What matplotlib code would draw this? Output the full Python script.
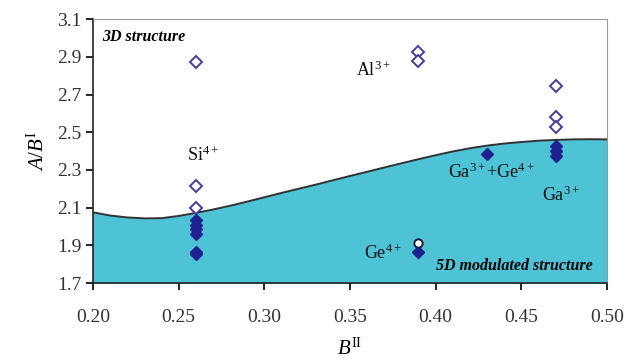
import numpy as np
import matplotlib
matplotlib.use("Agg")
import matplotlib.pyplot as plt

plt.rcParams['font.family'] = ['Liberation Serif', 'DejaVu Serif']
plt.rcParams['mathtext.fontset'] = 'custom'
plt.rcParams['mathtext.rm'] = 'Liberation Serif'
plt.rcParams['mathtext.it'] = 'Liberation Serif:italic'
plt.rcParams['mathtext.bf'] = 'Liberation Serif:bold'

# boundary between 3D and 5D modulated structure
curve_x = [0.20, 0.21, 0.22, 0.23, 0.24, 0.25, 0.26, 0.27, 0.28, 0.29,
           0.30, 0.31, 0.32, 0.33, 0.34, 0.35, 0.36, 0.37, 0.38, 0.39,
           0.40, 0.41, 0.42, 0.43, 0.44, 0.45, 0.46, 0.47, 0.48, 0.49, 0.50]
curve_y = [2.075, 2.058, 2.048, 2.043, 2.044, 2.056, 2.072, 2.09, 2.11, 2.132,
           2.155, 2.178, 2.20, 2.222, 2.245, 2.268, 2.29, 2.313, 2.335, 2.357,
           2.378, 2.398, 2.415, 2.429, 2.44, 2.448, 2.455, 2.459, 2.462, 2.463, 2.462]

# open diamonds: 3D structure
open_x = [0.26, 0.26, 0.26, 0.39, 0.39, 0.47, 0.47, 0.47]
open_y = [2.872, 2.216, 2.10, 2.923, 2.876, 2.745, 2.582, 2.529]

# filled diamonds: 5D modulated structure
fill_x = [0.26, 0.26, 0.26, 0.26, 0.26, 0.26, 0.43, 0.47, 0.47, 0.47, 0.39]
fill_y = [2.034, 2.008, 1.985, 1.96, 1.866, 1.852, 2.383, 2.428, 2.402, 2.374, 1.866]

# open circle (Ge4+)
circ_x = [0.39]
circ_y = [1.914]

labels = ['Si$^{\\mathrm{4+}}$', 'Al$^{\\mathrm{3+}}$', 'Ga$^{\\mathrm{3+}}$+Ge$^{\\mathrm{4+}}$',
          'Ga$^{\\mathrm{3+}}$', 'Ge$^{\\mathrm{4+}}$']
label_x = [0.264, 0.3638, 0.4326, 0.473, 0.369]
label_y = [2.379, 2.83, 2.29, 2.167, 1.858]

fig = plt.figure(figsize=(6.25, 3.61), dpi=100)
ax = fig.add_axes([0.149, 0.216, 0.822, 0.731])

ax.fill_between(curve_x, 1.7, curve_y, color='#4fc3d6', zorder=1)
ax.plot(curve_x, curve_y, color='#333333', lw=1.4, zorder=2)

ax.plot(open_x, open_y, 'D', ms=6, mfc='white', mec='#4b3a9c', mew=1.4, zorder=3)
ax.plot(fill_x, fill_y, 'D', ms=6.5, mfc='#1f2190', mec='#1f2190', zorder=3)
ax.plot(circ_x, circ_y, 'o', ms=6, mfc='white', mec='#1a1a3a', mew=1.4, zorder=4)

for t, x, y in zip(labels, label_x, label_y):
    ax.text(x, y, t, fontsize=13, ha='center', va='center', color='#111111')

ax.text(0.205, 3.005, '3D structure', fontsize=11.5, style='italic', weight='bold',
        ha='left', va='center')
ax.text(0.446, 1.792, '5D modulated structure', fontsize=11.5, style='italic',
        weight='bold', ha='center', va='center')

ax.set_xlim(0.20, 0.50)
ax.set_ylim(1.7, 3.1)
ax.set_xticks(np.arange(0.20, 0.501, 0.05))
ax.set_yticks(np.arange(1.7, 3.101, 0.2))
ax.xaxis.set_major_formatter(matplotlib.ticker.FormatStrFormatter('%.2f'))
ax.yaxis.set_major_formatter(matplotlib.ticker.FormatStrFormatter('%.1f'))
ax.tick_params(labelsize=14, labelcolor='#333333', direction='out', length=5, width=1.2)
ax.tick_params(axis='x', pad=14)

for s in ['top', 'right']:
    ax.spines[s].set_color('#999999')
for s in ['left', 'bottom']:
    ax.spines[s].set_color('#222222')
    ax.spines[s].set_linewidth(1.2)

ax.set_xlabel('$B^{\\mathrm{II}}$', fontsize=15, labelpad=9)
ax.set_ylabel('$A/B^{\\mathrm{I}}$', fontsize=15, labelpad=6)

fig.savefig('out.png', dpi=100)
